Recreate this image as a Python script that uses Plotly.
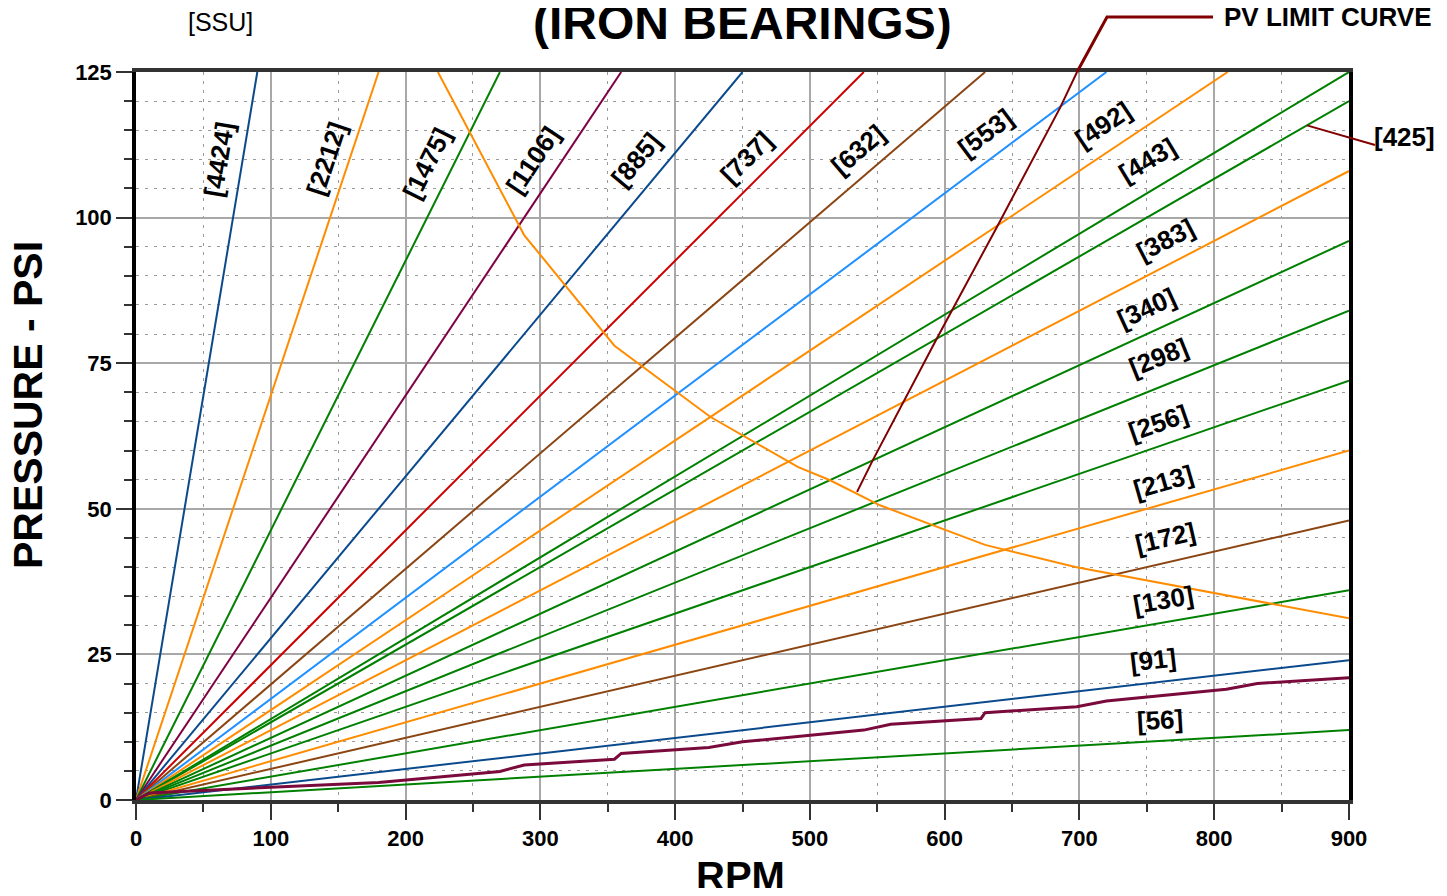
import math
import plotly.graph_objects as go

# ---------------- data ----------------
ssu_labels = ["[4424]", "[2212]", "[1475]", "[1106]", "[885]", "[737]", "[632]", "[553]", "[492]",
              "[443]", "[425]", "[383]", "[340]", "[298]", "[256]", "[213]", "[172]", "[130]", "[91]", "[56]"]
end_rpm = [90, 180, 270, 360, 450, 540, 630, 720, 810,
           900, 900, 900, 900, 900, 900, 900, 900, 900, 900, 900]
end_psi = [125, 125, 125, 125, 125, 125, 125, 125, 125,
           125, 120, 108, 96, 84, 72, 60, 48, 36, 24, 12]
line_colors = ["#0A4A8C", "#FF8C00", "#008000", "#800040", "#0A4A8C", "#CC0000", "#8B4513", "#1E90FF", "#FF8C00",
               "#008000", "#008000", "#FF8C00", "#008000", "#008000", "#008000", "#FF8C00", "#8B4513", "#008000",
               "#0A4A8C", "#008000"]
# label centres (data coords); None = label placed outside with a leader
label_rpm = [61.6, 141.7, 215.9, 294.6, 371, 453.3, 535.7, 630, 717.5,
             750.8, None, 763.5, 750, 759, 758.3, 762, 763.5, 762, 754.6, 759.8]
label_psi = [109.9, 110.2, 109.4, 109.9, 109.9, 110.4, 111.6, 114.6, 115.9,
             109.9, None, 96.2, 84.5, 76.1, 64.7, 54.6, 45, 34.3, 24, 13.7]

# orange limit curve
orange_rpm = [224, 288, 355, 426, 491, 515, 552, 630, 697, 800, 900]
orange_psi = [125, 97, 78, 65.8, 57.2, 54.9, 50.6, 43.8, 40, 35.5, 31.2]

# PV limit curve
pv_rpm = [535, 546.8, 594.3, 638.8, 685.5, 698.2]
pv_psi = [52.9, 58.4, 79.3, 98.4, 118.8, 125]

# stepped maroon curve near the bottom
step_rpm = [0, 10, 100, 180, 270, 288, 355, 360, 425, 450, 540, 560, 627, 630, 698, 720, 809, 832, 900]
step_psi = [0, 1.2, 2.2, 3.0, 4.9, 6.0, 7.0, 8.0, 9.0, 10.0, 12.0, 13.0, 14.0, 15.0, 16.0, 17.0, 19.0, 20.0, 21.0]

x_ticks = [0, 100, 200, 300, 400, 500, 600, 700, 800, 900]
y_ticks = [0, 25, 50, 75, 100, 125]

# ---------------- layout geometry ----------------
OFF = 8  # page body margin
W, H = 1447 - 2 * OFF, 896 - 2 * OFF
ML, MT = 136 - OFF, 72 - OFF
MR = W - (1349 - OFF)
MB = H - (800 - OFF)
PW, PH = W - ML - MR, H - MT - MB
XMAX, YMAX = 900, 125
ppx, ppy = PW / XMAX, PH / YMAX


def pxx(px):
    return (px - OFF - ML) / PW


def pxy(py):
    return (MT + PH - (py - OFF)) / PH


FONT = "Liberation Sans, Arial, Helvetica, sans-serif"

fig = go.Figure()

for i in range(len(ssu_labels)):
    fig.add_trace(go.Scatter(x=[0, end_rpm[i]], y=[0, end_psi[i]], mode="lines",
                             line=dict(color=line_colors[i], width=2), showlegend=False,
                             hoverinfo="skip"))

fig.add_trace(go.Scatter(x=step_rpm, y=step_psi, mode="lines",
                         line=dict(color="#7A0A3C", width=3), showlegend=False, hoverinfo="skip"))
fig.add_trace(go.Scatter(x=orange_rpm, y=orange_psi, mode="lines",
                         line=dict(color="#FF8C00", width=2), showlegend=False, hoverinfo="skip"))
fig.add_trace(go.Scatter(x=pv_rpm, y=pv_psi, mode="lines",
                         line=dict(color="#800000", width=2), showlegend=False, hoverinfo="skip"))

annotations = []
for i, lab in enumerate(ssu_labels):
    if label_rpm[i] is None:
        continue
    ang = math.degrees(math.atan((end_psi[i] / end_rpm[i]) * ppy / ppx))
    annotations.append(dict(x=label_rpm[i], y=label_psi[i], xref="x", yref="y", text=lab,
                            showarrow=False, textangle=-ang,
                            font=dict(family=FONT, size=26, color="black", weight="bold")))

# [425] outside label with leader
i425 = ssu_labels.index("[425]")
lead_rpm = 868.8
lead_psi = end_psi[i425] * lead_rpm / end_rpm[i425]
annotations.append(dict(x=pxx(1405), y=pxy(137), xref="paper", yref="paper",
                        text="[425]", showarrow=False, xanchor="center", yanchor="middle",
                        font=dict(family=FONT, size=26, color="black", weight="bold")))

shapes = [
    dict(type="line", xref="x domain", yref="y domain",
         x0=lead_rpm / XMAX, y0=lead_psi / YMAX,
         x1=pxx(1375), y1=pxy(145),
         line=dict(color="#800000", width=2)),
    dict(type="path", xref="x domain", yref="y domain",
         path="M {:.4f} {:.4f} L {:.4f} {:.4f} L {:.4f} {:.4f}".format(
             pv_rpm[-1] / XMAX, pv_psi[-1] / YMAX,
             pxx(1107), pxy(17),
             pxx(1213), pxy(17)),
         line=dict(color="#800000", width=3)),
]

# titles & texts
annotations += [
    dict(x=pxx(742), y=pxy(22), xref="paper", yref="paper",
         text="(IRON BEARINGS)", showarrow=False, xanchor="center", yanchor="middle",
         font=dict(family=FONT, size=48, color="black", weight="bold")),
    dict(x=pxx(220), y=pxy(22), xref="paper", yref="paper",
         text="[SSU]", showarrow=False, xanchor="center", yanchor="middle",
         font=dict(family=FONT, size=25, color="black")),
    dict(x=pxx(1222), y=pxy(17), xref="paper", yref="paper",
         text="PV LIMIT CURVE", showarrow=False, xanchor="left", yanchor="middle",
         font=dict(family=FONT, size=26, color="black", weight="bold")),
    dict(x=pxx(740), y=pxy(876), xref="paper", yref="paper",
         text="RPM", showarrow=False, xanchor="center", yanchor="middle",
         font=dict(family=FONT, size=40, color="black", weight="bold")),
    dict(x=pxx(28), y=pxy(405), xref="paper", yref="paper",
         text="PRESSURE - PSI", showarrow=False, xanchor="center", yanchor="middle", textangle=-90,
         font=dict(family=FONT, size=41, color="black", weight="bold")),
]

tickfont = dict(family=FONT, size=22, color="black", weight="bold")

fig.update_layout(
    width=W, height=H,
    margin=dict(l=ML, r=MR, t=MT, b=MB, pad=0),
    paper_bgcolor="white", plot_bgcolor="white",
    showlegend=False,
    annotations=annotations,
    shapes=shapes,
    xaxis=dict(range=[0, XMAX], tickvals=x_ticks, ticktext=[str(v) for v in x_ticks],
               ticks="outside", ticklen=16, tickwidth=1.5, tickcolor="#333",
               showgrid=True, gridcolor="#A8A8A8", gridwidth=1.5, zeroline=False,
               showline=True, mirror=True, linecolor="#333", linewidth=3.5,
               tickfont=tickfont,
               minor=dict(dtick=50, tick0=0, ticks="outside", ticklen=8, tickcolor="#333", tickwidth=1.5,
                          showgrid=True, gridcolor="#9A9A9A", gridwidth=1, griddash="3px,6px")),
    yaxis=dict(range=[0, YMAX], tickvals=y_ticks, ticktext=[str(v) for v in y_ticks],
               ticks="outside", ticklen=16, tickwidth=1.5, tickcolor="#333",
               showgrid=True, gridcolor="#A8A8A8", gridwidth=1.5, zeroline=False,
               showline=True, mirror=True, linecolor="black", linewidth=3.5,
               tickfont=tickfont,
               minor=dict(dtick=5, tick0=0, ticks="outside", ticklen=8, tickcolor="#333", tickwidth=1.5,
                          showgrid=True, gridcolor="#9A9A9A", gridwidth=1, griddash="3px,6px")),
)

fig.write_html("out.html")
